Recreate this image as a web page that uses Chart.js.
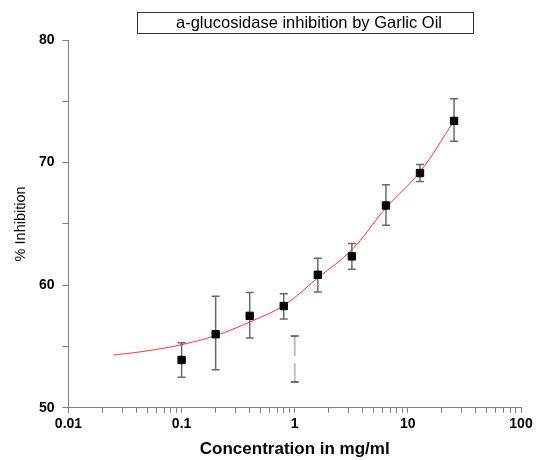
<!DOCTYPE html>
<html>
<head>
<meta charset="utf-8">
<script src="https://cdn.jsdelivr.net/npm/chart.js@4/dist/chart.umd.min.js"></script>
<style>
  body { margin: 0; background: #fff; }
  canvas { display: block; }
</style>
</head>
<body>
<canvas id="chart" width="536" height="460"></canvas>
<script>
// measured points (concentration mg/ml, % inhibition, error bar limits)
const concentration = [0.1, 0.2, 0.4, 0.8, 1.6, 3.2, 6.4, 12.8, 25.6];
const inhibition = [53.9, 56.0, 57.5, 58.3, 60.85, 62.35, 66.5, 69.15, 73.4];
const errUpper = [55.3, 59.1, 59.4, 59.3, 62.2, 63.4, 68.2, 69.85, 75.2];
const errLower = [52.5, 53.1, 55.7, 57.25, 59.45, 61.3, 64.9, 68.45, 71.75];

// the lone error bar with no marker near 1 mg/ml
const strayX = [1.0];
const strayUpper = [55.85];
const strayLower = [52.1];

// fitted curve
const fitX = [0.025, 0.05, 0.1, 0.2, 0.4, 0.8, 1.6, 3.2, 6.4, 12.8, 25.6];
const fitY = [54.3, 54.65, 55.15, 55.9, 57.0, 58.35, 60.6, 62.9, 66.3, 69.25, 73.4];

const xMajorTicks = [0.01, 0.1, 1, 10, 100];
const yTicks = [50, 55, 60, 65, 70, 75, 80];
const yLabelTicks = [50, 60, 70, 80];

const chartTitle = 'a-glucosidase inhibition by Garlic Oil';
const xTitle = 'Concentration in mg/ml';
const yTitle = '% Inhibition';

const FONT = "'Liberation Sans', Arial, sans-serif";
const AXIS_GREY = '#808080';

// minor ticks 2..9 in each decade
const xAllTicks = [];
xMajorTicks.forEach((m, i) => {
    xAllTicks.push(m);
    if (i < xMajorTicks.length - 1) {
        for (let k = 2; k <= 9; k++) xAllTicks.push(+(m * k).toPrecision(3));
    }
});

const errorBars = {
    id: 'errorBars',
    beforeDatasetsDraw(chart) {
        const ctx = chart.ctx;
        const xs = chart.scales.x;
        const ys = chart.scales.y;
        const cap = 4;
        ctx.save();
        ctx.lineWidth = 1.5;
        concentration.forEach((c, i) => {
            const px = xs.getPixelForValue(c);
            const top = ys.getPixelForValue(errUpper[i]);
            const bot = ys.getPixelForValue(errLower[i]);
            ctx.strokeStyle = '#6a6a6a';
            ctx.beginPath();
            ctx.moveTo(px, top); ctx.lineTo(px, bot);
            ctx.moveTo(px - cap, top); ctx.lineTo(px + cap, top);
            ctx.moveTo(px - cap, bot); ctx.lineTo(px + cap, bot);
            ctx.stroke();
        });
        strayX.forEach((c, i) => {
            const px = xs.getPixelForValue(c);
            const top = ys.getPixelForValue(strayUpper[i]);
            const bot = ys.getPixelForValue(strayLower[i]);
            const mid = (top + bot) / 2;
            ctx.strokeStyle = '#c0c0c0';
            ctx.lineWidth = 2;
            ctx.beginPath();
            ctx.moveTo(px, top); ctx.lineTo(px, mid - 3);
            ctx.moveTo(px, mid + 4); ctx.lineTo(px, bot);
            ctx.stroke();
            ctx.strokeStyle = '#444';
            ctx.lineWidth = 1.5;
            ctx.beginPath();
            ctx.moveTo(px - cap, top); ctx.lineTo(px + cap, top);
            ctx.moveTo(px - cap, bot); ctx.lineTo(px + cap, bot);
            ctx.stroke();
        });
        ctx.restore();
    }
};

const titleBox = {
    id: 'titleBox',
    afterDraw(chart) {
        const ctx = chart.ctx;
        ctx.save();
        ctx.strokeStyle = '#333';
        ctx.lineWidth = 1;
        ctx.strokeRect(137.5, 12.5, 336, 21);
        ctx.fillStyle = '#000';
        ctx.font = '16.5px ' + FONT;
        ctx.textAlign = 'center';
        ctx.textBaseline = 'middle';
        ctx.fillText(chartTitle, 309, 23.5);
        ctx.restore();
    }
};

new Chart(document.getElementById('chart').getContext('2d'), {
    type: 'scatter',
    data: {
        datasets: [{
            label: 'fit',
            type: 'line',
            data: fitX.map((x, i) => ({ x: x, y: fitY[i] })),
            borderColor: 'rgba(255, 0, 0, 0.8)',
            borderWidth: 1,
            pointRadius: 0,
            tension: 0.4,
            fill: false,
            order: 2
        }, {
            label: 'data',
            data: concentration.map((x, i) => ({ x: x, y: inhibition[i] })),
            pointStyle: 'rect',
            pointRadius: 5.2,
            backgroundColor: '#000',
            borderColor: '#000',
            borderWidth: 1,
            order: 1
        }]
    },
    options: {
        responsive: false,
        animation: false,
        layout: { padding: { top: 40, right: 15, bottom: 0, left: 0 } },
        plugins: {
            legend: { display: false },
            tooltip: { enabled: false }
        },
        scales: {
            x: {
                type: 'logarithmic',
                min: 0.01,
                max: 100,
                afterBuildTicks: (scale) => {
                    scale.ticks = xAllTicks.map(v => ({ value: v }));
                },
                ticks: {
                    autoSkip: false,
                    maxRotation: 0,
                    padding: 3,
                    color: '#000',
                    font: { family: FONT, size: 14, weight: 'bold' },
                    callback: (v) => xMajorTicks.includes(v) ? String(v) : ''
                },
                grid: { drawOnChartArea: false, drawTicks: true, tickLength: 5, color: AXIS_GREY },
                border: { display: true, color: AXIS_GREY, width: 1 },
                title: {
                    display: true,
                    text: xTitle,
                    color: '#000',
                    font: { family: FONT, size: 17, weight: 'bold' },
                    padding: { top: 4, bottom: 0 }
                }
            },
            y: {
                min: 50,
                max: 80,
                afterBuildTicks: (scale) => {
                    scale.ticks = yTicks.map(v => ({ value: v }));
                },
                ticks: {
                    padding: 8,
                    color: '#000',
                    font: { family: FONT, size: 14, weight: 'bold' },
                    callback: (v) => yLabelTicks.includes(v) ? String(v) : ''
                },
                grid: { drawOnChartArea: false, drawTicks: true, tickLength: 6, color: AXIS_GREY },
                border: { display: true, color: AXIS_GREY, width: 1 },
                title: {
                    display: true,
                    text: yTitle,
                    color: '#000',
                    font: { family: FONT, size: 14.5 },
                    padding: { top: 12.5, bottom: 1 }
                }
            }
        }
    },
    plugins: [errorBars, titleBox]
});
</script>
</body>
</html>
